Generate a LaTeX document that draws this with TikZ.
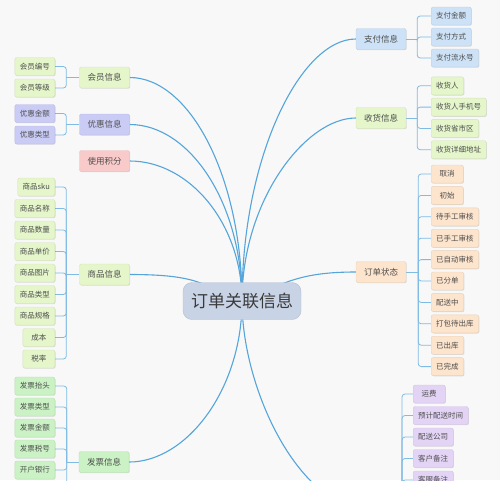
\documentclass[tikz,border=0pt]{standalone}
\usepackage{fontspec}
\setmainfont{Noto Sans CJK SC}
\usepackage{xcolor}
\usetikzlibrary{backgrounds,shadows}
\definecolor{Paper}{HTML}{F8F8F8}
\definecolor{Ink}{HTML}{3A3A3A}
\definecolor{Link}{HTML}{55A5DA}
\definecolor{RootFill}{HTML}{C8D3E5}
\definecolor{Lime}{HTML}{E5F6CB}
\definecolor{Lilac}{HTML}{CACCF6}
\definecolor{Rose}{HTML}{F9CACA}
\definecolor{Mint}{HTML}{CBF2C5}
\definecolor{Sky}{HTML}{CDE2F6}
\definecolor{Peach}{HTML}{FDE4CC}
\definecolor{Orchid}{HTML}{E3D4F6}
\pagecolor{Paper}

\begin{document}
\begin{tikzpicture}[x=1pt,y=-1pt,
  root/.style={rounded corners=9pt,fill=RootFill,draw=RootFill!90!black,minimum width=118pt,minimum height=37pt,inner xsep=8pt,font=\fontsize{17}{20}\selectfont,text=Ink},
  topic/.style={rounded corners=2pt,fill=#1,draw=#1!92!black,minimum height=21pt,inner xsep=8pt,font=\fontsize{8.5}{10}\selectfont,text=Ink!90,drop shadow={shadow xshift=.7pt,shadow yshift=-.7pt,fill=black,opacity=.12}},
  leaf/.style={rounded corners=2pt,fill=#1,draw=#1!92!black,minimum height=18pt,minimum width=32pt,inner xsep=5pt,font=\fontsize{7.5}{9}\selectfont,text=Ink!90,drop shadow={shadow xshift=.7pt,shadow yshift=-.7pt,fill=black,opacity=.12}},
  link/.style={draw=Link,line width=1.1pt},
  fork/.style={draw=Link!75,line width=.8pt,rounded corners=3pt}
]
\useasboundingbox (0,0) rectangle (500,480);

\node[root] (root) at (242,301) {订单关联信息};

% left topics
\node[topic=Lime] (member) at (104.5,77.5) {会员信息};
\node[topic=Lilac] (promo) at (104.5,124.5) {优惠信息};
\node[topic=Rose] (points) at (104.5,161) {使用积分};
\node[topic=Lime] (goods) at (104.5,274.5) {商品信息};
\node[topic=Mint] (invoice) at (104,462) {发票信息};
% right topics
\node[topic=Sky] (pay) at (381,39) {支付信息};
\node[topic=Lime] (ship) at (381,118) {收货信息};
\node[topic=Peach] (status) at (381,272) {订单状态};
\coordinate (deliv) at (370,510);

% leaves
\foreach \t [count=\i] in {会员编号,会员等级}
  \node[leaf=Lime,anchor=east] (member-\i) at (55,{45+21.5*\i}) {\t};
\foreach \t [count=\i] in {优惠金额,优惠类型}
  \node[leaf=Lilac,anchor=east] (promo-\i) at (55,{92+21.5*\i}) {\t};
\foreach \t [count=\i] in {商品sku,商品名称,商品数量,商品单价,商品图片,商品类型,商品规格,成本,税率}
  \node[leaf=Lime,anchor=east] (goods-\i) at (55,{165.5+21.5*\i}) {\t};
\foreach \t [count=\i] in {发票抬头,发票类型,发票金额,发票税号,开户银行}
  \node[leaf=Mint,anchor=east] (invoice-\i) at (55,{365+21*\i}) {\t};
\foreach \t [count=\i] in {支付金额,支付方式,支付流水号}
  \node[leaf=Sky,anchor=west] (pay-\i) at (431,{-5+21*\i}) {\t};
\foreach \t [count=\i] in {收货人,收货人手机号,收货省市区,收货详细地址}
  \node[leaf=Lime,anchor=west] (ship-\i) at (431,{64.5+21.3*\i}) {\t};
\foreach \t [count=\i] in {取消,初始,待手工审核,已手工审核,已自动审核,已分单,配送中,打包待出库,已出库,已完成}
  \node[leaf=Peach,anchor=west] (status-\i) at (431,{152.6+21.4*\i}) {\t};
\foreach \t [count=\i] in {运费,预计配送时间,配送公司,客户备注,客服备注}
  \node[leaf=Orchid,anchor=west] (deliv-\i) at (413,{372.5+21.5*\i}) {\t};

\begin{scope}[on background layer]
% branches from the root
\draw[link] (member.east) .. controls +(60,0) and +(0,-124) .. (root.center);
\draw[link] (promo.east) .. controls +(60,0) and +(0,-98) .. (root.center);
\draw[link] (points.east) .. controls +(60,0) and +(0,-77) .. (root.center);
\draw[link] (goods.east) .. controls +(70,0) and +(-40,-16) .. (root.center);
\draw[link] (invoice.east) .. controls +(57,0) and +(0,89) .. (root.center);
\draw[link] (pay.west) .. controls +(-55,0) and +(0,-145) .. (root.center);
\draw[link] (ship.west) .. controls +(-50,0) and +(0,-101) .. (root.center);
\draw[link] (status.west) .. controls +(-60,0) and +(40,-16) .. (root.center);
\draw[link] (root.center) .. controls +(0,89) and +(-70,0) .. (deliv);
% forks to the leaves
\draw[fork] (member.west) -- ++(-13,0) coordinate (member-fork);
\foreach \i in {1,2} \draw[fork] (member-fork) |- (member-\i.east);
\draw[fork] (promo.west) -- ++(-13,0) coordinate (promo-fork);
\foreach \i in {1,2} \draw[fork] (promo-fork) |- (promo-\i.east);
\draw[fork] (goods.west) -- ++(-13,0) coordinate (goods-fork);
\foreach \i in {1,...,9} \draw[fork] (goods-fork) |- (goods-\i.east);
\draw[fork] (invoice.west) -- ++(-12,0) coordinate (invoice-fork);
\foreach \i in {1,...,5} \draw[fork] (invoice-fork) |- (invoice-\i.east);
\coordinate (invoice-end) at (66.5,500);
\draw[fork] (invoice-fork) -- (invoice-end);
\draw[fork] (pay.east) -- ++(11,0) coordinate (pay-fork);
\foreach \i in {1,2,3} \draw[fork] (pay-fork) |- (pay-\i.west);
\draw[fork] (ship.east) -- ++(11,0) coordinate (ship-fork);
\foreach \i in {1,...,4} \draw[fork] (ship-fork) |- (ship-\i.west);
\draw[fork] (status.east) -- ++(12,0) coordinate (status-fork);
\foreach \i in {1,...,10} \draw[fork] (status-fork) |- (status-\i.west);
\coordinate (deliv-fork) at (402,510);
\draw[fork] (deliv) -- (deliv-fork);
\foreach \i in {1,...,5} \draw[fork] (deliv-fork) |- (deliv-\i.west);
\end{scope}
\end{tikzpicture}
\end{document}
